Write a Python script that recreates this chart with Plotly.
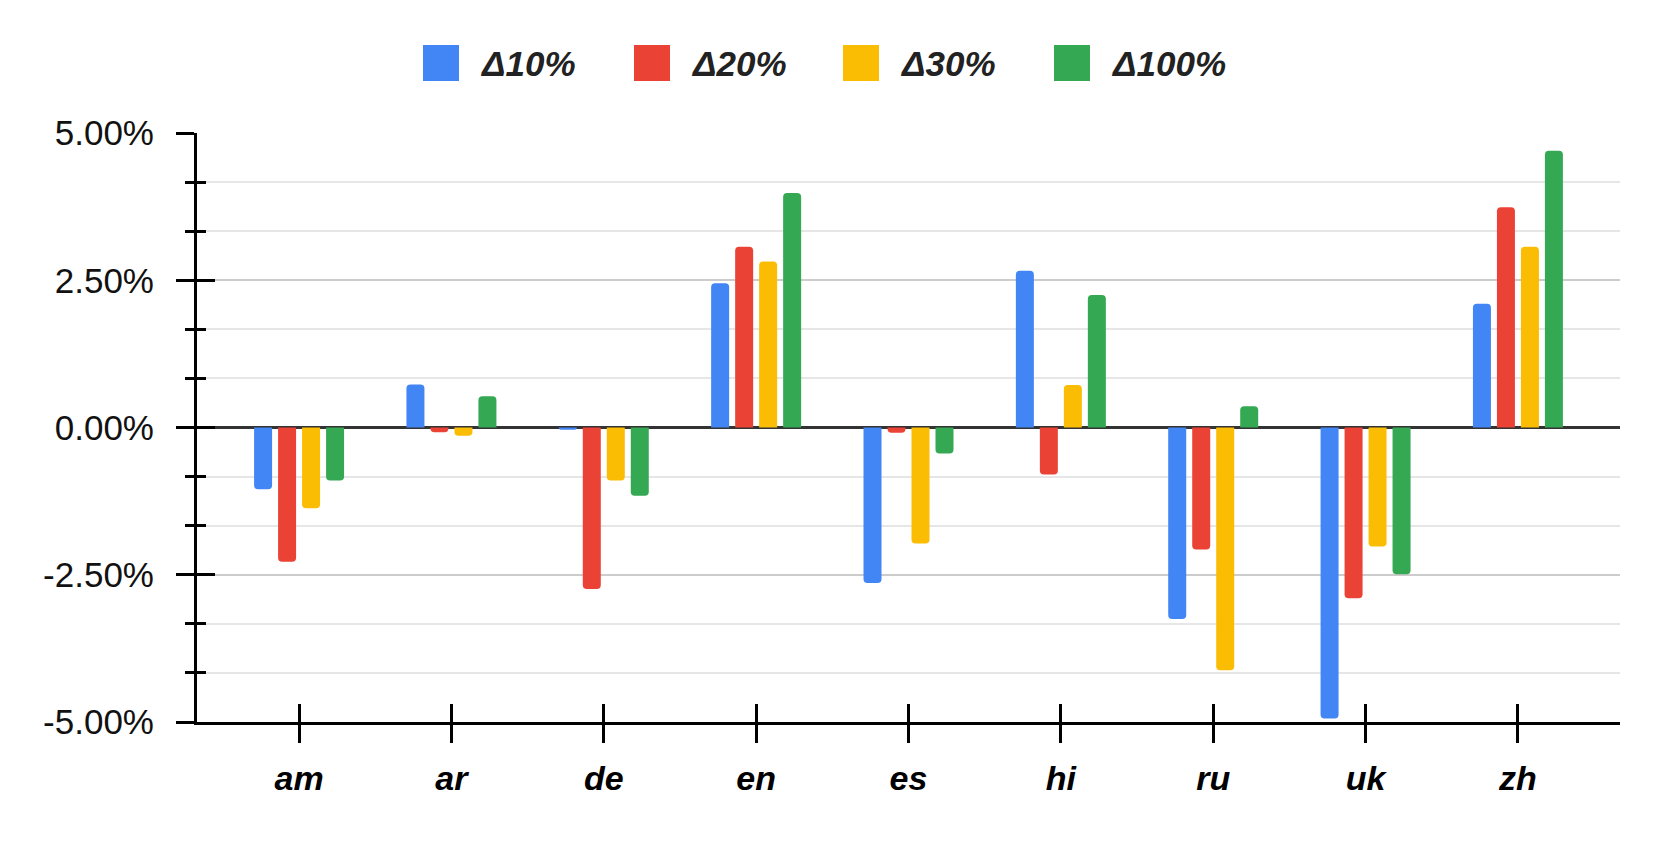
import plotly.graph_objects as go

categories = ["am", "ar", "de", "en", "es", "hi", "ru", "uk", "zh"]
series_names = ["Δ10%", "Δ20%", "Δ30%", "Δ100%"]
delta10 = [-1.05, 0.73, -0.04, 2.45, -2.64, 2.66, -3.25, -4.94, 2.10]
delta20 = [-2.28, -0.08, -2.74, 3.07, -0.09, -0.80, -2.07, -2.90, 3.74]
delta30 = [-1.37, -0.14, -0.90, 2.82, -1.97, 0.72, -4.12, -2.02, 3.07]
delta100 = [-0.90, 0.53, -1.16, 3.98, -0.44, 2.25, 0.36, -2.49, 4.70]
y_tick_values = [-5.0, -2.5, 0.0, 2.5, 5.0]
y_tick_labels = ["-5.00%", "-2.50%", "0.00%", "2.50%", "5.00%"]
colors = ["#4285F4", "#EA4335", "#FBBC04", "#34A853"]

# the page body has an 8px default margin; size the figure to fit the window
OFF = 8
W, H = 1661 - 2 * OFF, 841 - 2 * OFF
ML, MT = 197 - OFF, 133 - OFF
MR = W - (1620 - OFF)
MB = H - (722 - OFF)
PW, PH = W - ML - MR, H - MT - MB
FONT = "Arial, Liberation Sans, sans-serif"

fig = go.Figure()
for name, vals, col in zip(series_names, [delta10, delta20, delta30, delta100], colors):
    fig.add_trace(go.Bar(x=categories, y=vals, name=name, marker_color=col,
                         marker_line_width=0, showlegend=False))

# invisible trace for the overlay axes so they render ticks
fig.add_trace(go.Scatter(x=[0], y=[0], xaxis="x2", yaxis="y2", mode="markers",
                         marker=dict(opacity=0), showlegend=False, hoverinfo="skip"))

xr = [-0.67, 8.67]
yr = [-5, 5]
fig.update_layout(
    width=W, height=H,
    margin=dict(l=ML, r=MR, t=MT, b=MB, pad=0, autoexpand=False),
    paper_bgcolor="white", plot_bgcolor="white",
    barmode="group", bargap=0.37, bargroupgap=0.25, barcornerradius=4,
    font=dict(family=FONT, size=34, color="#222222"),
    xaxis=dict(type="category", range=xr, showline=True, linecolor="black", linewidth=3,
               ticks="outside", ticklen=18, tickwidth=3, tickcolor="black",
               tickfont=dict(size=34, color="black", weight="bold", style="italic"),
               showgrid=False, zeroline=False, ticklabelstandoff=6, automargin=False),
    xaxis2=dict(overlaying="x", anchor="y", side="bottom", range=xr, type="linear",
                tickmode="array", tickvals=list(range(len(categories))),
                ticks="inside", ticklen=18, tickwidth=3, tickcolor="black",
                showticklabels=False, showgrid=False, zeroline=False, showline=False,
                automargin=False),
    yaxis=dict(range=yr, tickmode="array", tickvals=y_tick_values, ticktext=y_tick_labels,
               showline=True, linecolor="black", linewidth=3,
               ticks="outside", ticklen=18, tickwidth=3, tickcolor="black",
               tickfont=dict(size=35, color="#111111"),
               showgrid=True, gridcolor="#cccccc", gridwidth=2,
               zeroline=True, zerolinecolor="#333333", zerolinewidth=3,
               ticklabelstandoff=15, automargin=False,
               minor=dict(dtick=2.5/3, tick0=0, ticks="outside", ticklen=9, tickwidth=3,
                          tickcolor="black", showgrid=True, gridcolor="#e6e6e6", gridwidth=2)),
    yaxis2=dict(overlaying="y", anchor="x", side="left", range=yr, tickmode="linear",
                tick0=0, dtick=2.5, ticks="inside", ticklen=18, tickwidth=3, tickcolor="black",
                showticklabels=False, showgrid=False, zeroline=False, showline=False,
                automargin=False,
                minor=dict(dtick=2.5/3, tick0=0, ticks="inside", ticklen=9, tickwidth=3,
                           tickcolor="black", showgrid=False)),
)

# custom legend (swatches + labels) above the plot, positions in page pixels
sw_left = [423, 634, 843, 1054]
sw_size = 36
sw_top = 45
for name, col, lx in zip(series_names, colors, sw_left):
    fx = lx - OFF
    fy = sw_top - OFF
    x0 = (fx - ML) / PW
    x1 = (fx + sw_size - ML) / PW
    y1 = (H - MB - fy) / PH
    y0 = (H - MB - fy - sw_size) / PH
    fig.add_shape(type="rect", xref="paper", yref="paper", x0=x0, x1=x1, y0=y0, y1=y1,
                  fillcolor=col, line=dict(width=0), layer="above")
    fig.add_annotation(xref="paper", yref="paper", x=(fx + sw_size + 20 - ML) / PW,
                       y=(H - MB - fy - sw_size / 2) / PH, xanchor="left", yanchor="middle",
                       text=name, showarrow=False, borderpad=0,
                       font=dict(family=FONT, size=35, color="#222222", weight="bold", style="italic"))

fig.write_html("out.html")
